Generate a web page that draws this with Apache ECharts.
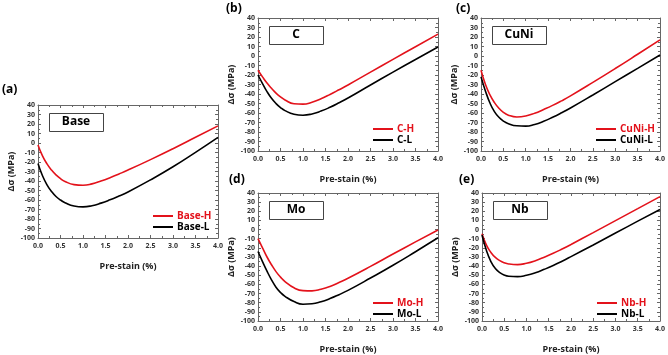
<!DOCTYPE html>
<html>
<head>
<meta charset="utf-8">
<script src="https://cdn.jsdelivr.net/npm/echarts@6/dist/echarts.min.js"></script>
<style>
  html, body { margin: 0; padding: 0; background: #fff; }
  #chart { width: 668px; height: 355px; }
</style>
</head>
<body>
<div id="chart"></div>
<script>
// pre-strain (%) sample positions shared by all curves
const strain = [0, 0.1, 0.2, 0.3, 0.4, 0.5, 0.6, 0.8, 1.0, 1.2, 1.4, 1.6, 1.8, 2.0, 2.5, 3.0, 3.5, 4.0];

const baseH = [-2, -13.5, -22, -28.5, -33.5, -37.5, -40.5, -43.8, -44.5, -43, -40, -36.5, -32.6, -28.5, -17.5, -6, 6, 18];
const baseL = [-21.5, -34.5, -44, -51, -56.3, -60, -62.8, -66.3, -67.2, -66, -63.3, -59.8, -55.8, -51.5, -38.8, -25, -9.8, 6];
const cH = [-15, -22, -28.5, -34, -39, -43, -46.3, -50.3, -50.7, -48.6, -45, -40.5, -35.6, -30.5, -17, -3.5, 9.8, 23];
const cL = [-20, -29, -37.5, -44.5, -50, -54.3, -57.5, -61.3, -62.3, -61, -58, -54, -49.3, -44.2, -30.5, -17, -3.7, 9.5];
const cuniH = [-15, -30, -41, -49, -55, -59.3, -62, -64.2, -63.2, -60.3, -56.3, -52, -47.2, -42, -27.8, -13.2, 1.8, 17];
const cuniL = [-22, -37, -49.5, -58.5, -64.5, -68.5, -71, -73.5, -73.8, -72, -68.7, -64.5, -59.8, -54.7, -41, -27, -13, 1];
const moH = [-10, -20, -30, -38.5, -46, -52, -56.8, -63.7, -66.8, -67, -65.3, -62.3, -58, -53.3, -40.3, -26.8, -13.5, -0.5];
const moL = [-24, -35, -45.5, -55, -63, -68.8, -73, -78.7, -81.6, -81.2, -79, -75.5, -71.2, -66.5, -53, -39, -24.2, -9];
const nbH = [-4.5, -17, -25, -30.5, -34, -36.3, -37.6, -38.3, -36.8, -34, -30.2, -26, -21.3, -16.3, -3.3, 9.8, 22.9, 36];
const nbL = [-6, -23, -35, -42.5, -47, -49.7, -51, -51.5, -50, -47.3, -43.5, -39.3, -34.6, -29.6, -16.8, -3.8, 9.2, 22];

const panels = [
  { tag: '(a)', name: 'Base', hi: baseH, lo: baseL, box: [38, 105, 180, 133], tagPos: [2, 84] },
  { tag: '(b)', name: 'C', hi: cH, lo: cL, box: [258, 18, 180, 133], tagPos: [226, 3] },
  { tag: '(c)', name: 'CuNi', hi: cuniH, lo: cuniL, box: [481, 18, 181, 133], tagPos: [456, 3] },
  { tag: '(d)', name: 'Mo', hi: moH, lo: moL, box: [258, 193, 180, 132], tagPos: [229, 174] },
  { tag: '(e)', name: 'Nb', hi: nbH, lo: nbL, box: [482, 193, 180, 132], tagPos: [459, 174] },
];

const FONT = 'Open Sans';
const RED = '#e3121b';
const AXIS = '#666';

const grid = [], xAxis = [], yAxis = [], series = [], legend = [], graphic = [];

panels.forEach((p, i) => {
  const [l, t, w, h] = p.box;
  grid.push({ left: l, top: t, width: w, height: h });

  const xBase = {
    gridIndex: i, type: 'value', min: 0, max: 4, interval: 0.5,
    axisLine: { onZero: false, lineStyle: { color: AXIS, width: 1 } },
    axisTick: { inside: true, length: 3, lineStyle: { color: AXIS } },
    minorTick: { show: true, splitNumber: 2, length: 2, lineStyle: { color: AXIS } },
    splitLine: { show: false },
  };
  xAxis.push(Object.assign({}, xBase, {
    position: 'bottom',
    name: 'Pre-stain (%)', nameLocation: 'middle', nameGap: 24,
    nameTextStyle: { fontFamily: FONT, fontWeight: 'bold', fontSize: 9, color: '#222' },
    axisLabel: { fontFamily: FONT, fontWeight: 'bold', fontSize: 7, color: '#333', margin: 4,
      formatter: v => v.toFixed(1) },
  }));
  xAxis.push(Object.assign({}, xBase, { position: 'top', axisLabel: { show: false } }));

  const yBase = {
    gridIndex: i, type: 'value', min: -100, max: 40, interval: 10,
    axisLine: { show: true, onZero: false, lineStyle: { color: AXIS, width: 1 } },
    axisTick: { show: true, inside: true, length: 3, lineStyle: { color: AXIS } },
    minorTick: { show: true, splitNumber: 2, length: 2, lineStyle: { color: AXIS } },
    splitLine: { show: false },
  };
  yAxis.push(Object.assign({}, yBase, {
    position: 'left',
    name: 'Δσ (MPa)', nameLocation: 'middle', nameGap: 22, nameRotate: 90,
    nameTextStyle: { fontFamily: FONT, fontWeight: 'bold', fontSize: 9, color: '#222' },
    axisLabel: { fontFamily: FONT, fontWeight: 'bold', fontSize: 7, color: '#333', margin: 3 },
  }));
  yAxis.push(Object.assign({}, yBase, { position: 'right', axisLabel: { show: false } }));

  const hiName = p.name + '-H', loName = p.name + '-L';
  [[hiName, p.hi, RED], [loName, p.lo, '#000']].forEach(([nm, vals, col]) => {
    series.push({
      name: nm, type: 'line', xAxisIndex: 2 * i, yAxisIndex: 2 * i,
      data: strain.map((x, k) => [x, vals[k]]),
      smooth: 0.5, symbol: 'none', silent: true,
      lineStyle: { color: col, width: 1.6 }, itemStyle: { color: col },
    });
  });

  legend.push({
    orient: 'vertical', left: l + 115, top: t + h - 27,
    itemWidth: 20, itemHeight: 2, itemGap: 1, icon: 'rect', padding: 0,
    selectedMode: false,
    textStyle: { fontFamily: FONT, fontWeight: 'bold', fontSize: 10, padding: [0, 0, 0, -1] },
    data: [
      { name: hiName, textStyle: { color: RED } },
      { name: loName, textStyle: { color: '#000' } },
    ],
  });

  graphic.push({
    type: 'rect', left: l + 11, top: t + 8,
    shape: { width: 54, height: 18 },
    style: { fill: '#fff', stroke: '#444', lineWidth: 1 },
  });
  graphic.push({
    type: 'text', x: l + 11 + 27, y: t + 8 + 9,
    style: { text: p.name, fontFamily: FONT, fontWeight: 'bold', fontSize: 12, fill: '#000',
      align: 'center', verticalAlign: 'middle' },
  });
  graphic.push({
    type: 'text', left: p.tagPos[0], top: p.tagPos[1],
    style: { text: p.tag, fontFamily: FONT, fontWeight: 'bold', fontSize: 12, fill: '#000' },
  });
});

const chart = echarts.init(document.getElementById('chart'), null, { renderer: 'canvas' });
chart.setOption({
  animation: false,
  backgroundColor: '#fff',
  grid, xAxis, yAxis, series, legend, graphic,
});
</script>
</body>
</html>
